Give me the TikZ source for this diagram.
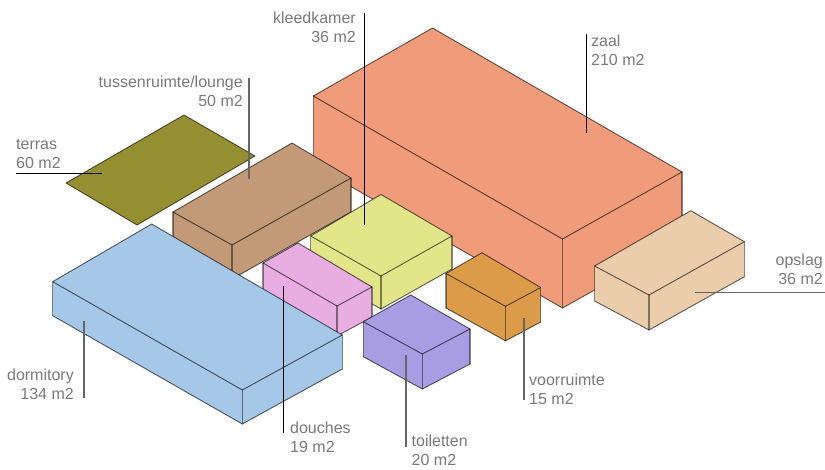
\documentclass[tikz,border=0pt]{standalone}
\usepackage{fontspec}
\setmainfont{Liberation Sans}
\tikzset{
  x=1pt,y=-1pt,
  face/.style={line width=0.9pt,draw=black,draw opacity=0.62,line join=round},
  vert/.style={line width=1.3pt,draw=black,draw opacity=0.45,line cap=round},
  lab/.style={text=black!52,inner sep=0pt,font=\fontsize{16}{19}\selectfont},
  labl/.style={lab,align=left,anchor=base west},
  labr/.style={lab,align=right,anchor=base east},
  thinlead/.style={line width=0.9pt,draw=black},
  graylead/.style={line width=1.2pt,draw=black!60},
}
\definecolor{czaal}{HTML}{F09C7A}
\definecolor{cbrown}{HTML}{C39A78}
\definecolor{cyellow}{HTML}{E2E688}
\definecolor{cpink}{HTML}{E8AEE2}
\definecolor{cblue}{HTML}{A5C8E8}
\definecolor{corange}{HTML}{DC9B48}
\definecolor{cpurple}{HTML}{A89CE2}
\definecolor{copslag}{HTML}{ECCDAB}
\definecolor{colive}{HTML}{948F30}
% name, L, T, R, F, height, colour
\newcommand{\isobox}[7]{%
  \fill[#7] (#2) -- (#3) -- (#4) -- ([yshift=-#6pt]#4) -- ([yshift=-#6pt]#5) -- ([yshift=-#6pt]#2) -- cycle;
  \draw[face] (#2) -- (#3) -- (#4) ([yshift=-#6pt]#4) -- ([yshift=-#6pt]#5) -- ([yshift=-#6pt]#2);
  \draw[face] (#2) -- (#5) -- (#4);
  \draw[vert] (#2) -- ([yshift=-#6pt]#2) (#5) -- ([yshift=-#6pt]#5) (#4) -- ([yshift=-#6pt]#4);
}
\begin{document}
\begin{tikzpicture}
\useasboundingbox (0,0) rectangle (825,469);
\fill[white] (0,0) rectangle (825,469);
% terras
\draw[face,fill=colive] (184,115) -- (255,156) -- (137,225) -- (66,183) -- cycle;
\isobox{zaal}{313.3,96}{432.5,28}{682,172}{562.5,239}{69}{czaal}
\isobox{tussen}{173,212}{292,143}{351,178}{232,245}{34}{cbrown}
\isobox{kleed}{310.7,236}{381,194.5}{452,236}{381,276}{33}{cyellow}
\isobox{douches}{263,263}{298,243}{372,287}{337,306}{30}{cpink}
\isobox{dorm}{52.7,281.7}{151.7,224}{342.3,335}{242.3,390}{34}{cblue}
\isobox{voor}{446,273.5}{482,252.7}{540.7,287.5}{505.5,306.3}{34.5}{corange}
\isobox{toil}{363.3,321.7}{410.7,295}{470,329}{422.3,354}{35}{cpurple}
\isobox{opslag}{594.6,266}{690.8,210.7}{744.4,241.7}{649,295}{35}{copslag}
% labels
\node[labl] (lterras) at (16,168.5) {terras\\60 m2};
\node[labr] (ltussen) at (243,106.5) {tussenruimte/lounge\\50 m2};
\node[labr] (lkleed) at (356,42) {kleedkamer\\36 m2};
\node[labl] (lzaal) at (591,65.5) {zaal\\210 m2};
\node[labr] (lopslag) at (823,284.5) {opslag\\36 m2};
\node[labr] (ldorm) at (74,399) {dormitory\\134 m2};
\node[labl] (ldouches) at (290,452) {douches\\19 m2};
\node[labl] (ltoil) at (411.5,465) {toiletten\\20 m2};
\node[labl] (lvoor) at (529,404.5) {voorruimte\\15 m2};
% leaders
\coordinate (a1) at (16,173); \coordinate (a2) at (102,173);
\draw[thinlead] (a1) -- (a2);
\coordinate (b1) at (249,78); \coordinate (b2) at (249,179);
\draw[graylead] (b1) -- (b2);
\coordinate (c1) at (364,13); \coordinate (c2) at (364,225);
\draw[thinlead] (c1) -- (c2);
\coordinate (d1) at (586.3,34); \coordinate (d2) at (586.3,133);
\draw[thinlead] (d1) -- (d2);
\coordinate (e1) at (695,292.7); \coordinate (e2) at (825,292.7);
\draw[graylead] (e1) -- (e2);
\coordinate (f1) at (84,321); \coordinate (f2) at (84,398);
\draw[graylead] (f1) -- (f2);
\coordinate (g1) at (283.3,286); \coordinate (g2) at (283.3,433);
\draw[thinlead] (g1) -- (g2);
\coordinate (h1) at (406,355); \coordinate (h2) at (406,447);
\draw[graylead] (h1) -- (h2);
\coordinate (i1) at (524,318); \coordinate (i2) at (524,400);
\draw[graylead] (i1) -- (i2);
\end{tikzpicture}
\end{document}
